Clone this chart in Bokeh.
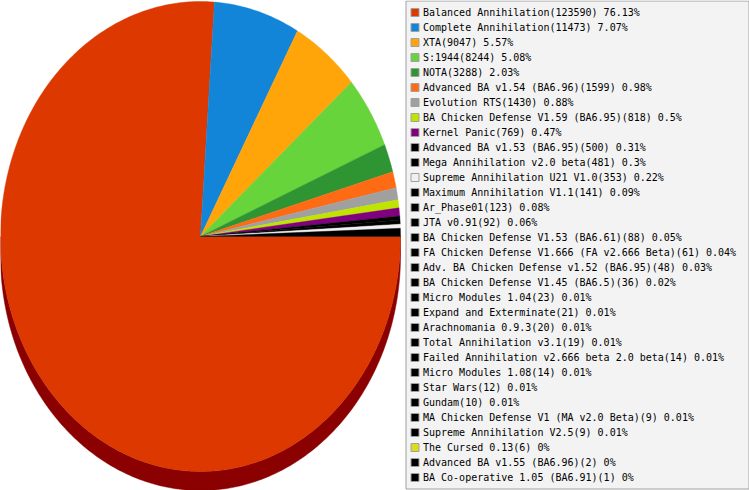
import numpy as np
from bokeh.embed import file_html
from bokeh.resources import INLINE
from bokeh.models import ColumnDataSource, Range1d
from bokeh.plotting import figure
from bokeh.core.properties import value

names = ["Balanced Annihilation", "Complete Annihilation", "XTA", "S:1944", "NOTA",
         "Advanced BA v1.54 (BA6.96)", "Evolution RTS", "BA Chicken Defense V1.59 (BA6.95)",
         "Kernel Panic", "Advanced BA v1.53 (BA6.95)", "Mega Annihilation v2.0 beta",
         "Supreme Annihilation U21 V1.0", "Maximum Annihilation V1.1", "Ar_Phase01", "JTA v0.91",
         "BA Chicken Defense V1.53 (BA6.61)", "FA Chicken Defense V1.666 (FA v2.666 Beta)",
         "Adv. BA Chicken Defense v1.52 (BA6.95)", "BA Chicken Defense V1.45 (BA6.5)",
         "Micro Modules 1.04", "Expand and Exterminate", "Arachnomania 0.9.3", "Total Annihilation v3.1",
         "Failed Annihilation v2.666 beta 2.0 beta", "Micro Modules 1.08", "Star Wars", "Gundam",
         "MA Chicken Defense V1 (MA v2.0 Beta)", "Supreme Annihilation V2.5", "The Cursed 0.13",
         "Advanced BA v1.55 (BA6.96)", "BA Co-operative 1.05 (BA6.91)"]
counts = [123590, 11473, 9047, 8244, 3288, 1599, 1430, 818, 769, 500, 481, 353, 141, 123, 92, 88,
          61, 48, 36, 23, 21, 20, 19, 14, 14, 12, 10, 9, 9, 6, 2, 1]
percents = ["76.13", "7.07", "5.57", "5.08", "2.03", "0.98", "0.88", "0.5", "0.47", "0.31", "0.3",
            "0.22", "0.09", "0.08", "0.06", "0.05", "0.04", "0.03", "0.02", "0.01", "0.01", "0.01",
            "0.01", "0.01", "0.01", "0.01", "0.01", "0.01", "0.01", "0", "0", "0"]
colors = ["#dc3800", "#1285d8", "#ffa50a", "#66d43a", "#2f9432", "#ff6a14", "#a0a0a0", "#bfe400",
          "#800080", "#000000", "#000000", "#f0f0f0"] + ["#000000"] * 17 + ["#dcdc1e", "#000000", "#000000"]

W, H = 749, 490
CX, CY, RX, RY, DEPTH = 200, 236, 200, 235, 19
SHADOW = "#8b0000"

p = figure(width=W, height=H, output_backend="svg", toolbar_location=None,
           x_range=Range1d(0, W), y_range=Range1d(H, 0),
           min_border=0, outline_line_color=None, background_fill_color="white",
           border_fill_color="white")
p.axis.visible = False
p.grid.visible = False

# depth band of the lower half
t = np.linspace(0, np.pi, 240)
bx = np.concatenate([CX + RX * np.cos(t), CX + RX * np.cos(t[::-1])])
by = np.concatenate([CY + DEPTH + RY * np.sin(t), CY + RY * np.sin(t[::-1])])
p.patch(bx, by, fill_color=SHADOW, line_color=SHADOW, line_width=0.5)

# slices, clockwise from 3 o'clock; the pie rounds each slice to whole degrees,
# and whatever is left over to 360 goes to the last (black) slice
deg = np.round(np.array(counts) / sum(counts) * 360)
deg[-1] += 360 - deg.sum()
cum = np.radians(np.cumsum(np.concatenate([[0], deg])))
xs, ys, cs = [], [], []
for a0, a1, c in zip(cum[:-1], cum[1:], colors):
    if a1 <= a0:
        continue
    a = np.linspace(a0, a1, max(2, int((a1 - a0) * 80)))
    xs.append(np.concatenate([[CX], CX + RX * np.cos(a)]).tolist())
    ys.append(np.concatenate([[CY], CY + RY * np.sin(a)]).tolist())
    cs.append(c)
p.patches(xs, ys, fill_color=cs, line_color=cs, line_width=0.4)

# legend panel
p.quad(left=405.5, right=748.5, top=0.5, bottom=488.5, fill_color="#f3f3f3",
       line_color="#a0a0a0", line_width=1)

rows = 12 + 15 * np.arange(len(names))
labels = [f"{n}({c}) {v}%" for n, c, v in zip(names, counts, percents)]
src = ColumnDataSource(dict(y=rows, label=labels, color=colors))
p.rect(x=414.5, y="y", width=8, height=8, source=src, fill_color="color",
       line_color="#a0a0a0", line_width=1)
p.text(x=422.5, y="y", text="label", source=src, text_font=value("DejaVu Sans Mono"),
       text_font_size="10px", text_color="#000000", text_baseline="middle", text_align="left")

open("out.html", "w").write(file_html(p, INLINE))
